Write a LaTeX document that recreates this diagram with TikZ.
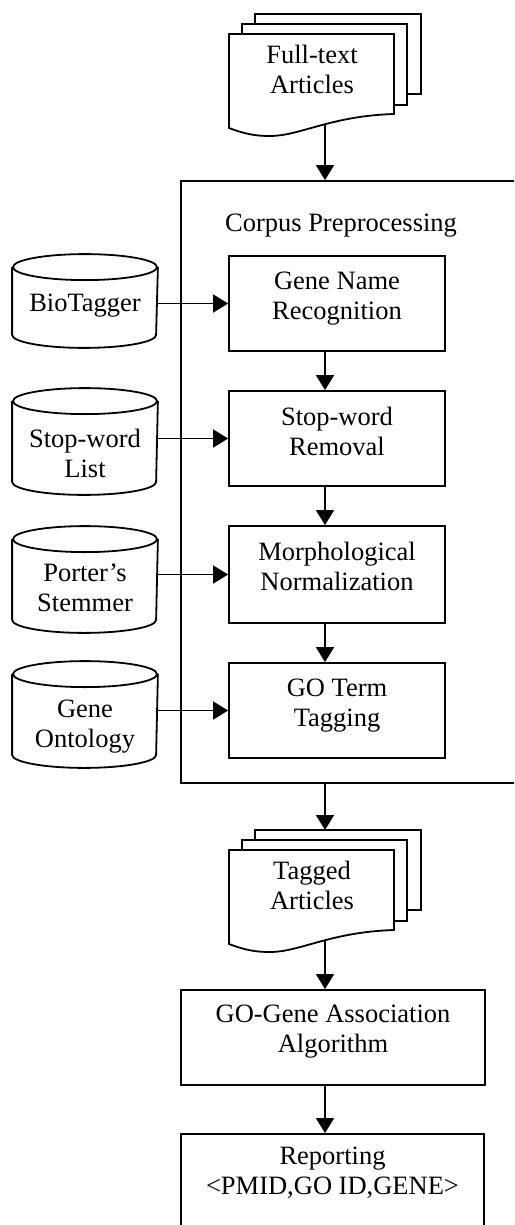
\documentclass[tikz,border=0pt]{standalone}
\usepackage{fontspec}
\setmainfont{Liberation Serif}
\usetikzlibrary{arrows.meta}

% database cylinder drawn around an empty node of the wanted size
\newcommand\dbshape[1]{%
  \draw ([yshift=-13pt]#1.north) ellipse[x radius=72pt, y radius=13pt];
  \draw ([yshift=-13pt]#1.north west) -- ([yshift=13pt]#1.south west)
     arc[start angle=180, end angle=360, x radius=72pt, y radius=13pt]
     -- ([yshift=-13pt]#1.north east);
}

% stack of three document pages; front page spans x 229..394
\newcommand\docpages{%
  \draw (255,-24) -- (255,-14) -- (421,-14) -- (421,-94) -- (407,-94);
  \draw (242,-34) -- (242,-24) -- (407,-24) -- (407,-105) -- (394,-105);
  \draw (229,-34) -- (394,-34) -- (394,-114)
     .. controls (330,-116) and (300,-136) .. (270,-136)
     .. controls (255,-136) and (245,-134) .. (229,-128) -- cycle;
}

\begin{document}
\begin{tikzpicture}[x=1pt, y=1pt, line width=1.8pt,
  every node/.style={font=\fontsize{26.5}{30}\selectfont, align=center, inner sep=0pt},
  frame/.style={draw, minimum width=359pt, minimum height=602pt},
  procbox/.style={draw, minimum width=216pt, minimum height=95pt},
  widebox/.style={draw, minimum width=304pt, minimum height=95pt},
  dbbox/.style={minimum width=144pt},
  arr/.style={-{Triangle[length=15pt, width=18pt]}},
]
\clip (0,0) rectangle (514,-1225);

\coordinate (axis) at (325,0);

% input documents
\begin{scope}
  \docpages
  \node (ft) at (312,-69) {Full-text\\Articles};
  \coordinate (ft-out) at (325,-124);
\end{scope}

% preprocessing frame (runs past the right edge)
\node[frame] (cont) at (360.5,-482) {};
\coordinate (cont-top) at (cont.north -| axis);
\coordinate (cont-bot) at (cont.south -| axis);
\node (corpus) at (341,-226) {Corpus Preprocessing};

% processing steps
\node[procbox] (gnr) at (337,-303.5) {};
\node (gnr-t) at (337,-299) {Gene Name\\Recognition};
\node[procbox] (swr) at (337,-438.5) {};
\node (swr-t) at (337,-431) {Stop-word\\Removal};
\node[procbox, minimum height=97pt] (morph) at (337,-574.5) {};
\node (morph-t) at (337,-566) {Morphological\\Normalization};
\node[procbox] (got) at (337,-710.5) {};
\node (got-t) at (337,-706) {GO Term\\Tagging};

% resources
\node[dbbox, minimum height=92pt] (bio) at (85,-301) {};
\dbshape{bio}
\node (bio-t) at (85,-306) {BioTagger};
\node[dbbox, minimum height=105pt] (swl) at (85,-441.5) {};
\dbshape{swl}
\node (swl-t) at (85,-453) {Stop-word\\List};
\node[dbbox, minimum height=105pt] (porter) at (85,-579.5) {};
\dbshape{porter}
\node (porter-t) at (85,-588) {Porter’s\\Stemmer};
\node[dbbox, minimum height=105pt] (gont) at (85,-714.5) {};
\dbshape{gont}
\node (gont-t) at (85,-727) {Gene\\Ontology};

% tagged documents
\begin{scope}[shift={(0,-816)}]
  \docpages
  \node (ta) at (312,-69) {Tagged\\Articles};
  \coordinate (ta-in) at (325,-14);
  \coordinate (ta-out) at (325,-124);
\end{scope}

% association and reporting
\node[widebox] (gga) at (333,-1037.5) {};
\node (gga-t) at (333,-1032) {GO-Gene Association\\Algorithm};
\node[draw, minimum width=303pt, minimum height=130pt] (rep) at (332.5,-1199) {};
\node (rep-t) at (332.5,-1173) {Reporting\\<PMID,GO ID,GENE>};

% flow
\draw[arr] (ft-out) -- (cont-top);
\draw[arr] (gnr.south -| axis) -- (swr.north -| axis);
\draw[arr] (swr.south -| axis) -- (morph.north -| axis);
\draw[arr] (morph.south -| axis) -- (got.north -| axis);
\draw[arr] (bio.east |- gnr.west) -- (gnr.west);
\draw[arr] (swl.east |- swr.west) -- (swr.west);
\draw[arr] (porter.east |- morph.west) -- (morph.west);
\draw[arr] (gont.east |- got.west) -- (got.west);
\draw[arr] (cont-bot) -- (ta-in);
\draw[arr] (ta-out) -- (gga.north -| axis);
\draw[arr] (gga.south -| axis) -- (rep.north -| axis);
\end{tikzpicture}
\end{document}
